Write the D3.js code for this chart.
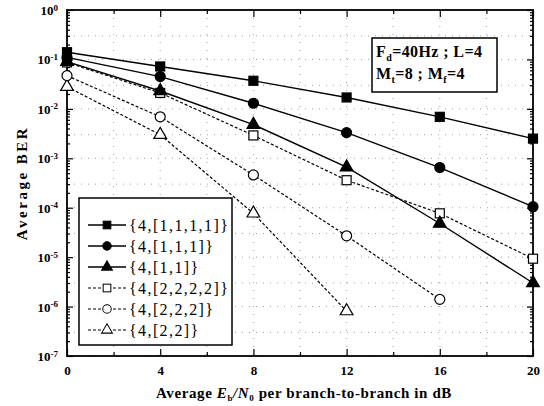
<!DOCTYPE html>
<html>
<head>
<meta charset="utf-8">
<script src="https://cdn.jsdelivr.net/npm/d3@7"></script>
<style>
  body { margin: 0; background: #fff; }
  text { font-family: "Liberation Serif", "Times New Roman", serif; font-weight: bold; fill: #000; }
</style>
</head>
<body>
<div id="chart"></div>
<script>
// data
const snr = [0, 4, 8, 12, 16, 20];
const berA = [0.14, 0.072, 0.037, 0.017, 0.0069, 0.0025];      // {4,[1,1,1,1]}
const berB = [0.11, 0.045, 0.013, 0.0033, 0.00065, 0.000105];  // {4,[1,1,1]}
const berC = [0.09, 0.023, 0.0048, 0.00066, 0.000048, 0.000003]; // {4,[1,1]}
const berD = [0.087, 0.021, 0.0029, 0.00036, 0.000077, 0.0000093]; // {4,[2,2,2,2]}
const berE = [0.047, 0.0069, 0.00046, 0.000027, 0.0000014];   // {4,[2,2,2]}
const berF = [0.028, 0.003, 0.000077, 0.00000081];            // {4,[2,2]}
const labels = ["{4,[1,1,1,1]}", "{4,[1,1,1]}", "{4,[1,1]}", "{4,[2,2,2,2]}", "{4,[2,2,2]}", "{4,[2,2]}"];
const xTicks = [0, 4, 8, 12, 16, 20];
const yExps = [0, -1, -2, -3, -4, -5, -6, -7];

const series = [
  { vals: berA, shape: "square", filled: true },
  { vals: berB, shape: "circle", filled: true },
  { vals: berC, shape: "triangle", filled: true },
  { vals: berD, shape: "square", filled: false },
  { vals: berE, shape: "circle", filled: false },
  { vals: berF, shape: "triangle", filled: false }
];

const W = 544, H = 406;
const m = { left: 67, right: 11, top: 10, bottom: 50 };
const iw = W - m.left - m.right, ih = H - m.top - m.bottom;

const svg = d3.select("#chart").append("svg")
  .attr("width", W).attr("height", H);
const g = svg.append("g").attr("transform", `translate(${m.left},${m.top})`);

const x = d3.scaleLinear().domain([0, 20]).range([0, iw]);
const y = d3.scaleLog().domain([1e-7, 1]).range([ih, 0]);

// faint dotted grid
const gridY = [];
yExps.forEach(e => { gridY.push(Math.pow(10, e)); if (e > -7) gridY.push(3 * Math.pow(10, e - 1)); });
g.append("g").selectAll("line").data(gridY).enter().append("line")
  .attr("x1", 0).attr("x2", iw).attr("y1", d => y(d)).attr("y2", d => y(d))
  .attr("stroke", "#888").attr("stroke-width", 0.8).attr("stroke-dasharray", "1,6");
g.append("g").selectAll("line").data(d3.range(2, 20, 2)).enter().append("line")
  .attr("x1", d => x(d)).attr("x2", d => x(d)).attr("y1", 0).attr("y2", ih)
  .attr("stroke", "#888").attr("stroke-width", 0.8).attr("stroke-dasharray", "1,7");

// minor log ticks
const minor = [];
for (let e = -7; e < 0; e++) for (let k = 2; k <= 9; k++) minor.push(k * Math.pow(10, e));
const decades = yExps.map(e => Math.pow(10, e));

function clean(sel) { sel.select(".domain").remove(); sel.selectAll("line").attr("stroke-width", 1.2); }

g.append("g").call(d3.axisLeft(y).tickValues(minor).tickSize(-3).tickFormat("")).call(clean);
g.append("g").attr("transform", `translate(${iw},0)`)
  .call(d3.axisRight(y).tickValues(minor).tickSize(-3).tickFormat("")).call(clean);
g.append("g").attr("transform", `translate(${iw},0)`)
  .call(d3.axisRight(y).tickValues(decades).tickSize(-6).tickFormat("")).call(clean);

const yAx = g.append("g").call(d3.axisLeft(y).tickValues(decades).tickSize(-6).tickFormat("")).call(clean);
yAx.selectAll(".tick").append("text")
  .attr("x", -9).attr("dy", "0.35em").attr("text-anchor", "end")
  .style("font-size", "13px")
  .each(function(d) {
    const t = d3.select(this);
    t.append("tspan").text("10");
    t.append("tspan").attr("dy", "-0.5em").style("font-size", "9px").text(Math.round(Math.log10(d)));
  });

// x axis, inward ticks, minor ticks between majors
g.append("g").attr("transform", `translate(0,${ih})`)
  .call(d3.axisBottom(x).tickValues(d3.range(2, 20, 4)).tickSize(-4).tickFormat("")).call(clean);
g.append("g").call(d3.axisTop(x).tickValues(d3.range(2, 20, 4)).tickSize(-4).tickFormat("")).call(clean);
g.append("g").call(d3.axisTop(x).tickValues(xTicks).tickSize(-7).tickFormat("")).call(clean);
const xAx = g.append("g").attr("transform", `translate(0,${ih})`)
  .call(d3.axisBottom(x).tickValues(xTicks).tickSize(-7).tickFormat(d3.format("d"))).call(clean);
xAx.selectAll("text").attr("y", 10).attr("dy", "0.71em")
  .style("font-size", "13px").style("font-family", "Liberation Serif, serif").style("font-weight", "bold");

// frame
g.append("rect").attr("width", iw).attr("height", ih)
  .attr("fill", "none").attr("stroke", "#000").attr("stroke-width", 1.8);

// markers
function marker(sel, s) {
  const fill = s.filled ? "#000" : "#fff";
  if (s.shape === "square") {
    sel.append("rect").attr("x", -4.5).attr("y", -4.5).attr("width", 9).attr("height", 9)
      .attr("fill", fill).attr("stroke", "#000").attr("stroke-width", 1.2);
  } else if (s.shape === "circle") {
    sel.append("circle").attr("r", 5).attr("fill", fill).attr("stroke", "#000").attr("stroke-width", 1.2);
  } else {
    sel.append("path").attr("d", d3.symbol().type(d3.symbolTriangle).size(70)())
      .attr("fill", fill).attr("stroke", "#000").attr("stroke-width", 1.2);
  }
}

const line = d3.line().x((d, i) => x(snr[i])).y(d => y(d));

series.forEach(s => {
  g.append("path").datum(s.vals).attr("d", line)
    .attr("fill", "none").attr("stroke", "#000")
    .attr("stroke-width", s.filled ? 1.4 : 1.2)
    .attr("stroke-dasharray", s.filled ? null : "3,2");
});
series.slice().reverse().forEach(s => {
  g.append("g").selectAll("g").data(s.vals).enter().append("g")
    .attr("transform", (d, i) => `translate(${x(snr[i])},${y(d)})`)
    .each(function() { marker(d3.select(this), s); });
});

// legend
const lg = svg.append("g").attr("transform", "translate(79,198)");
lg.append("rect").attr("width", 153).attr("height", 147)
  .attr("fill", "#fff").attr("stroke", "#000").attr("stroke-width", 1.5);
series.forEach((s, i) => {
  const row = lg.append("g").attr("transform", `translate(0,${27 + i * 21})`);
  row.append("line").attr("x1", 9).attr("x2", 47).attr("stroke", "#000")
    .attr("stroke-width", s.filled ? 1.4 : 1.2).attr("stroke-dasharray", s.filled ? null : "3,2");
  const mk = row.append("g").attr("transform", "translate(28,0) scale(0.85)");
  marker(mk, s);
  row.append("text").attr("x", 50).attr("dy", "0.35em").style("font-size", "16px")
    .style("letter-spacing", "1.4px").style("font-weight", "normal").text(labels[i]);
});

// annotation box
const ann = svg.append("g").attr("transform", "translate(372,38)");
ann.append("rect").attr("width", 125).attr("height", 54)
  .attr("fill", "#fff").attr("stroke", "#000").attr("stroke-width", 1.5);
const t1 = ann.append("text").attr("x", 4).attr("y", 19).style("font-size", "16px").style("letter-spacing", "0.4px");
t1.append("tspan").text("F");
t1.append("tspan").attr("dy", 4).style("font-size", "10px").text("d");
t1.append("tspan").attr("dy", -4).text("=40Hz ; L=4");
const t2 = ann.append("text").attr("x", 4).attr("y", 41).style("font-size", "16px").style("letter-spacing", "0.4px");
t2.append("tspan").text("M");
t2.append("tspan").attr("dy", 4).style("font-size", "10px").text("t");
t2.append("tspan").attr("dy", -4).text("=8  ; M");
t2.append("tspan").attr("dy", 4).style("font-size", "10px").text("f");
t2.append("tspan").attr("dy", -4).text("=4");

// axis titles
svg.append("text").attr("transform", `translate(27,${m.top + ih / 2}) rotate(-90)`)
  .attr("text-anchor", "middle").style("font-size", "15px").style("letter-spacing", "2.5px")
  .text("Average BER");

const xt = svg.append("text").attr("x", 304).attr("y", 398)
  .attr("text-anchor", "middle").style("font-size", "15px").style("letter-spacing", "0.6px");
xt.append("tspan").text("Average ");
xt.append("tspan").style("font-style", "italic").text("E");
xt.append("tspan").attr("dy", 3).style("font-size", "9px").text("b");
xt.append("tspan").attr("dy", -3).style("font-style", "italic").text("/N");
xt.append("tspan").attr("dy", 3).style("font-size", "9px").text("0");
xt.append("tspan").attr("dy", -3).text(" per branch-to-branch in dB");
</script>
</body>
</html>
